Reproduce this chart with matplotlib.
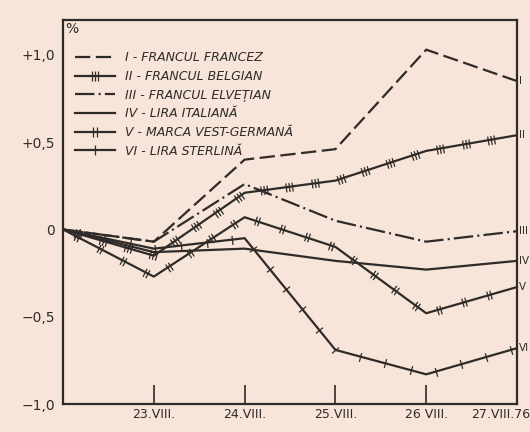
import numpy as np
import matplotlib
matplotlib.use("Agg")
import matplotlib.pyplot as plt
from matplotlib.path import Path
from matplotlib.markers import MarkerStyle
from matplotlib.lines import Line2D
from matplotlib.transforms import Affine2D, ScaledTranslation

# days of August 1976, change in % against the 22.VIII level
days = [22, 23, 24, 25, 26, 27]
day_labels = ["23.VIII.", "24.VIII.", "25.VIII.", "26 VIII.", "27.VIII.76"]

francul_francez = [0, -0.07, 0.40, 0.46, 1.03, 0.85]
francul_belgian = [0, -0.15, 0.21, 0.28, 0.45, 0.54]
francul_elvetian = [0, -0.07, 0.26, 0.05, -0.07, -0.01]
lira_italiana = [0, -0.13, -0.11, -0.18, -0.23, -0.18]
marca_vg = [0, -0.27, 0.07, -0.10, -0.48, -0.33]
lira_sterlina = [0, -0.11, -0.05, -0.69, -0.83, -0.68]

names = ["I - FRANCUL FRANCEZ", "II - FRANCUL BELGIAN", "III - FRANCUL ELVEȚIAN",
         "IV - LIRA ITALIANĂ", "V - MARCA VEST-GERMANĂ", "VI - LIRA STERLINĂ"]
end_tags = ["I", "II", "III", "IV", "V", "VI"]

ink = "#2f2b29"
paper = "#f6e5d8"
plt.rcParams["lines.scale_dashes"] = False


def bars_marker(n):
    # n short strokes across the line
    offs = (np.arange(n) - (n - 1) / 2) * 0.7
    verts, codes = [], []
    for o in offs:
        verts += [(o, -1), (o, 1)]
        codes += [Path.MOVETO, Path.LINETO]
    return Path(verts, codes)


def add_bars(ax, x, y, n, step=26, start=16):
    pts = ax.transData.transform(np.column_stack([x, y]))
    seg = np.diff(pts, axis=0)
    lens = np.hypot(seg[:, 0], seg[:, 1])
    cum = np.concatenate([[0], np.cumsum(lens)])
    inv = ax.transData.inverted()
    for d in np.arange(start, cum[-1] - 6, step):
        i = min(np.searchsorted(cum, d, side="right") - 1, len(seg) - 1)
        p = pts[i] + (d - cum[i]) / lens[i] * seg[i]
        ang = np.degrees(np.arctan2(seg[i, 1], seg[i, 0]))
        px, py = inv.transform(p)
        m = MarkerStyle(bars_marker(n), transform=Affine2D().rotate_deg(ang))
        ax.plot([px], [py], ls="none", marker=m, ms=6.5, mec=ink, mfc="none", mew=0.9)


fig = plt.figure(figsize=(5.3, 4.32), dpi=100, facecolor=paper)
ax = fig.add_axes([63 / 530, 28 / 432, 454 / 530, 384 / 432])
ax.set_facecolor(paper)
ax.set_xlim(22, 27)
ax.set_ylim(-1.0, 1.2)

series = [francul_francez, francul_belgian, francul_elvetian, lira_italiana, marca_vg, lira_sterlina]
styles = [(0, (11, 4)), "-", (0, (14, 3, 1.5, 3)), "-", "-", "-"]
nbars = [0, 3, 0, 0, 2, 1]

handles = []
for vals, ls, nb, name, tag in zip(series, styles, nbars, names, end_tags):
    ax.plot(days, vals, color=ink, lw=1.6, ls=ls, solid_capstyle="butt")
    if nb:
        add_bars(ax, days, vals, nb)
        h = Line2D([], [], color=ink, lw=1.6, ls=ls, marker=bars_marker(nb), ms=6.5,
                   mec=ink, mfc="none", mew=0.9)
    else:
        h = Line2D([], [], color=ink, lw=1.6, ls=ls)
    handles.append(h)
    ax.annotate(tag, (days[-1], vals[-1]), xytext=(1.5, 0), textcoords="offset points",
                va="center", ha="left", fontsize=7.5, color=ink, annotation_clip=False)

leg = ax.legend(handles, names, loc="upper left", bbox_to_anchor=(0.026, 0.918),
                frameon=False, numpoints=1, handlelength=3.2, handletextpad=0.8,
                labelspacing=0.45, borderpad=0, borderaxespad=0,
                prop={"size": 9, "style": "italic"})
for t in leg.get_texts():
    t.set_color(ink)

ax.text(0.006, 0.995, "%", transform=ax.transAxes, ha="left", va="top", fontsize=10, color=ink)

ax.set_yticks([1.0, 0.5, 0, -0.5, -1.0])
ax.set_yticklabels(["+1,0", "+0,5", "0", "−0,5", "−1,0"])
ax.tick_params(axis="y", length=0, pad=6, labelsize=10, labelcolor=ink)

ax.set_xticks(days[1:])
ax.set_xticklabels(day_labels)
ax.tick_params(axis="x", direction="in", length=14, width=1.2, color=ink, pad=3,
               labelsize=9, labelcolor=ink)
last = ax.get_xticklabels()[-1]
last.set_horizontalalignment("right")
last.set_transform(last.get_transform() + ScaledTranslation(13 / 100, 0, fig.dpi_scale_trans))
ax.xaxis.get_major_ticks()[-1].tick1line.set_visible(False)

for s in ax.spines.values():
    s.set_linewidth(1.6)
    s.set_color(ink)

fig.savefig("out.png", dpi=100, facecolor=paper)
